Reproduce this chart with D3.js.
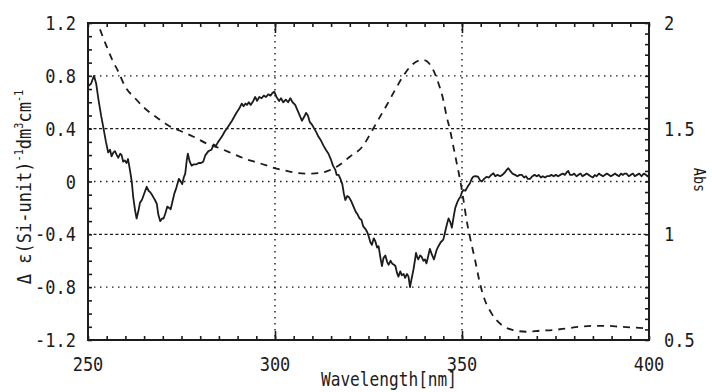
<!DOCTYPE html>
<html>
<head>
<meta charset="utf-8">
<script src="https://cdn.jsdelivr.net/npm/d3@7"></script>
<style>
	body { margin: 0; background: #fff; }
	text { font-family: "DejaVu Sans Mono", monospace; fill: #1c1c1c; }
</style>
</head>
<body>
<svg width="712" height="392"></svg>
<script>
// CD spectrum (left axis)
var cdWave = [250.0,250.8,251.6,252.2,252.8,253.5,254.1,254.8,255.4,255.9,256.3,256.8,257.2,257.7,258.1,258.6,259.0,259.4,259.8,260.3,
	260.7,261.2,261.7,262.1,262.6,263.0,263.5,263.9,264.4,264.8,265.3,265.7,266.2,266.6,267.1,267.5,267.9,268.4,268.8,269.3,
	269.8,270.2,270.7,271.2,271.7,272.1,272.6,273.1,273.6,274.3,274.8,275.2,275.6,276.0,276.4,276.7,277.2,277.7,278.3,279.0,
	279.6,280.2,280.8,281.4,282.2,283.0,283.6,284.2,284.8,285.3,286.0,286.6,287.1,287.8,288.5,289.1,289.7,290.4,291.1,291.6,
	292.1,292.5,293.0,293.5,294.2,294.7,295.2,295.8,296.4,297.0,297.6,298.2,298.8,299.3,299.8,300.4,301.1,301.6,302.2,302.9,
	303.5,304.1,304.7,305.4,306.0,306.6,307.2,307.8,308.3,308.8,309.3,309.9,310.5,311.1,311.6,312.3,313.0,313.6,314.3,314.9,
	315.5,316.1,316.5,317.0,317.5,318.0,318.4,318.8,319.3,319.8,320.4,321.0,321.6,322.1,322.6,323.1,323.6,324.2,324.6,325.0,
	325.5,325.9,326.4,326.8,327.3,327.7,328.2,328.6,329.0,329.5,330.0,330.4,330.9,331.3,331.8,332.2,332.6,333.0,333.5,333.9,
	334.4,334.8,335.3,335.7,336.1,336.5,337.0,337.4,337.7,338.0,338.3,338.8,339.2,339.7,340.1,340.5,341.0,341.4,341.9,342.5,
	343.2,343.7,344.3,345.0,345.5,346.0,346.4,346.9,347.3,347.8,348.2,348.7,349.2,349.6,350.0,350.4,350.9,351.3,351.7,352.1,
	352.6,353.0,353.6,354.3,354.8,355.3,355.9,356.6,357.2,357.8,358.4,358.9,359.5,360.2,360.8,361.5,362.0,362.4,362.9,363.5,
	364.2,364.8,365.4,366.0,366.6,367.1,367.6,368.2,368.8,369.4,370.0,370.5,371.1,371.6,372.2,372.7,373.3,373.9,374.5,375.1,
	375.7,376.3,376.9,377.5,378.0,378.4,378.9,379.5,380.0,380.6,381.1,381.7,382.2,382.8,383.3,383.9,384.4,385.0,385.5,386.0,
	386.6,387.1,387.7,388.2,388.7,389.3,389.8,390.4,390.9,391.4,392.0,392.5,393.0,393.5,394.0,394.6,395.1,395.7,396.2,396.8,
	397.4,398.0,398.6,399.2,399.6,400.0];
var cdDelta = [0.72,0.74,0.80,0.74,0.62,0.50,0.41,0.30,0.22,0.24,0.19,0.22,0.23,0.20,0.18,0.21,0.20,0.15,0.16,0.14,
	0.17,0.09,0.00,-0.12,-0.22,-0.28,-0.22,-0.16,-0.14,-0.11,-0.07,-0.04,-0.07,-0.08,-0.10,-0.12,-0.14,-0.17,-0.25,-0.30,
	-0.28,-0.28,-0.24,-0.19,-0.20,-0.21,-0.15,-0.09,-0.05,0.02,0.00,-0.02,0.03,0.06,0.16,0.21,0.15,0.12,0.13,0.13,
	0.14,0.14,0.15,0.20,0.23,0.24,0.28,0.27,0.30,0.32,0.35,0.38,0.40,0.43,0.46,0.49,0.52,0.55,0.59,0.57,
	0.59,0.58,0.60,0.58,0.61,0.64,0.61,0.64,0.63,0.65,0.64,0.66,0.65,0.67,0.68,0.64,0.61,0.63,0.60,0.62,
	0.60,0.63,0.60,0.58,0.54,0.50,0.46,0.49,0.52,0.50,0.45,0.43,0.40,0.37,0.34,0.31,0.27,0.24,0.21,0.17,
	0.12,0.09,0.05,0.05,0.02,-0.02,-0.09,-0.14,-0.11,-0.12,-0.15,-0.19,-0.23,-0.25,-0.28,-0.29,-0.34,-0.36,-0.38,-0.41,
	-0.46,-0.48,-0.43,-0.45,-0.50,-0.49,-0.58,-0.64,-0.58,-0.56,-0.61,-0.63,-0.60,-0.62,-0.63,-0.64,-0.69,-0.72,-0.68,-0.71,
	-0.70,-0.73,-0.70,-0.72,-0.80,-0.74,-0.67,-0.60,-0.54,-0.57,-0.59,-0.56,-0.57,-0.60,-0.59,-0.62,-0.56,-0.51,-0.55,-0.59,
	-0.52,-0.49,-0.46,-0.44,-0.38,-0.32,-0.28,-0.31,-0.35,-0.26,-0.20,-0.16,-0.13,-0.115,-0.08,-0.065,-0.07,-0.05,-0.03,-0.015,
	0.02,0.036,0.04,0.036,0.01,0.00,0.02,0.036,0.03,0.05,0.062,0.04,0.05,0.04,0.05,0.07,0.09,0.10,0.08,0.06,
	0.05,0.04,0.05,0.05,0.03,0.04,0.02,0.02,0.04,0.05,0.04,0.05,0.03,0.04,0.03,0.04,0.04,0.05,0.04,0.05,
	0.04,0.05,0.06,0.05,0.07,0.08,0.05,0.05,0.06,0.04,0.05,0.06,0.04,0.05,0.06,0.05,0.04,0.03,0.05,0.04,
	0.06,0.05,0.04,0.05,0.06,0.05,0.04,0.05,0.06,0.05,0.04,0.06,0.05,0.06,0.06,0.04,0.05,0.06,0.04,0.05,
	0.06,0.04,0.06,0.05,0.04,0.05];

// absorption spectrum (right axis)
var absWave = [253.2,255.0,256.5,258.1,259.9,262.6,265.2,268.3,271.7,274.6,278.2,281.7,285.3,288.9,292.4,296.0,299.6,303.1,306.2,309.8,
	313.4,316.5,320.0,323.6,325.8,328.1,329.9,332.1,333.9,336.5,338.5,339.7,340.5,342.3,343.7,345.0,345.9,346.8,347.7,348.6,
	349.5,350.4,351.2,352.1,353.5,354.8,356.1,357.9,360.6,363.7,367.3,370.9,374.4,378.0,381.6,385.1,388.7,392.2,395.0,400.0];
var absValue = [1.97,1.888,1.825,1.77,1.70,1.644,1.596,1.554,1.513,1.49,1.462,1.43,1.407,1.38,1.355,1.336,1.315,1.30,1.29,1.287,
	1.296,1.32,1.367,1.42,1.486,1.557,1.612,1.683,1.738,1.80,1.822,1.825,1.82,1.778,1.715,1.636,1.557,1.494,1.415,1.336,
	1.257,1.162,1.07,0.989,0.878,0.768,0.689,0.626,0.571,0.547,0.539,0.544,0.547,0.555,0.563,0.567,0.567,0.563,0.56,0.555];

var xTicks = [250, 300, 350, 400];
var leftTicks = [1.2, 0.8, 0.4, 0, -0.4, -0.8, -1.2];
var leftLabels = ["1.2", "0.8", "0.4", "0", "-0.4", "-0.8", "-1.2"];
var rightTicks = [2, 1.5, 1, 0.5];
var rightLabels = ["2", "1.5", "1", "0.5"];

(function(){
	var svg = d3.select("svg"),
		margin = {top: 23, right: 63, bottom: 52, left: 88},
		width = +svg.attr("width") - margin.left - margin.right,
		height = +svg.attr("height") - margin.top - margin.bottom;

	var ink = "#1c1c1c";

	var x = d3.scaleLinear().domain([250, 400]).range([0, width]),
		y = d3.scaleLinear().domain([-1.2, 1.2]).range([height, 0]),
		y2 = d3.scaleLinear().domain([0.5, 2]).range([height, 0]);

	var g = svg.append("g")
		.attr("transform", "translate(" + margin.left + "," + margin.top + ")");

	// condensed-looking text
	function label(parent, px, py, s, anchor, size){
		return parent.append("text")
			.attr("transform", "translate(" + px + "," + py + ") scale(0.85,1)")
			.attr("text-anchor", anchor)
			.style("font-size", (size || 20) + "px")
			.text(s);
	}

	// grid
	[0.8, 0, -0.8].forEach(function(v){
		g.append("line").attr("x1", 0).attr("x2", width).attr("y1", y(v)).attr("y2", y(v))
			.attr("stroke", ink).attr("stroke-width", 1.4).attr("stroke-dasharray", "1.5,4.5");
	});
	[0.4, -0.4].forEach(function(v){
		g.append("line").attr("x1", 0).attr("x2", width).attr("y1", y(v)).attr("y2", y(v))
			.attr("stroke", ink).attr("stroke-width", 1.4).attr("stroke-dasharray", "3,2.5");
	});
	[300, 350].forEach(function(v){
		g.append("line").attr("x1", x(v)).attr("x2", x(v)).attr("y1", 0).attr("y2", height)
			.attr("stroke", ink).attr("stroke-width", 1.4).attr("stroke-dasharray", "1.5,4.5");
	});

	// ticks (inward)
	function styleAxis(a){
		a.select(".domain").remove();
		a.selectAll("line").attr("stroke", ink).attr("stroke-width", 1.6);
		a.selectAll("text").remove();
	}
	var xMinor = d3.range(250, 401, 5);
	g.append("g").attr("transform", "translate(0," + height + ")")
		.call(d3.axisBottom(x).tickValues(xMinor).tickSize(-4)).call(styleAxis);
	g.append("g").attr("transform", "translate(0," + height + ")")
		.call(d3.axisBottom(x).tickValues([300, 350]).tickSize(-9)).call(styleAxis);
	g.append("g")
		.call(d3.axisTop(x).tickValues(xMinor).tickSize(-4)).call(styleAxis);
	g.append("g")
		.call(d3.axisTop(x).tickValues([300, 350]).tickSize(-10)).call(styleAxis);
	g.append("g")
		.call(d3.axisLeft(y).tickValues(d3.range(-12, 13).map(function(d){ return d / 10; })).tickSize(-4)).call(styleAxis);
	g.append("g").attr("transform", "translate(" + width + ",0)")
		.call(d3.axisRight(y2).tickValues(d3.range(10, 41).map(function(d){ return d / 20; })).tickSize(-4)).call(styleAxis);

	// frame
	g.append("rect").attr("width", width).attr("height", height)
		.attr("fill", "none").attr("stroke", ink).attr("stroke-width", 2);

	// curves
	var absLine = d3.line()
		.x(function(d){ return x(d[0]); })
		.y(function(d){ return y2(d[1]); })
		.curve(d3.curveMonotoneX);
	g.append("path")
		.datum(d3.zip(absWave, absValue))
		.attr("d", absLine)
		.attr("fill", "none").attr("stroke", ink).attr("stroke-width", 1.8)
		.attr("stroke-dasharray", "7,6");

	var cdLine = d3.line()
		.x(function(d){ return x(d[0]); })
		.y(function(d){ return y(d[1]); });
	g.append("path")
		.datum(d3.zip(cdWave, cdDelta))
		.attr("d", cdLine)
		.attr("fill", "none").attr("stroke", ink).attr("stroke-width", 1.8)
		.attr("stroke-linejoin", "round");

	// tick labels
	leftTicks.forEach(function(v, i){
		label(svg, margin.left - 12, margin.top + y(v) + 7, leftLabels[i], "end");
	});
	rightTicks.forEach(function(v, i){
		label(svg, margin.left + width + 15, margin.top + y2(v) + 7, rightLabels[i], "start");
	});
	xTicks.forEach(function(v){
		label(svg, margin.left + x(v), 371, String(v), "middle");
	});

	// axis titles
	label(svg, 389, 386, "Wavelength[nm]", "middle", 19);

	var yt = svg.append("text")
		.attr("transform", "translate(31,187) rotate(-90) scale(0.85,1)")
		.attr("text-anchor", "middle")
		.style("font-size", "20px");
	yt.append("tspan").text("\u0394 \u03b5(Si-unit)");
	yt.append("tspan").attr("dy", -8).style("font-size", "12px").text("-1");
	yt.append("tspan").attr("dy", 8).text("dm");
	yt.append("tspan").attr("dy", -8).style("font-size", "12px").text("3");
	yt.append("tspan").attr("dy", 8).text("cm");
	yt.append("tspan").attr("dy", -8).style("font-size", "12px").text("-1");

	svg.append("text")
		.attr("transform", "translate(694,180) rotate(90) scale(0.85,1)")
		.attr("text-anchor", "middle")
		.style("font-size", "16px")
		.text("Abs");
})();
</script>
</body>
</html>
